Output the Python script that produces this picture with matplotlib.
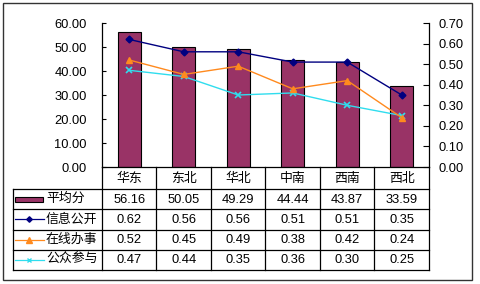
import matplotlib
matplotlib.use('Agg')
import matplotlib.pyplot as plt
from matplotlib.patches import Rectangle
from matplotlib.lines import Line2D

plt.rcParams['font.family'] = ['Liberation Sans', 'Noto Sans CJK SC']

regions = ['华东', '东北', '华北', '中南', '西南', '西北']
avg_score = [56.16, 50.05, 49.29, 44.44, 43.87, 33.59]
info_open = [0.62, 0.56, 0.56, 0.51, 0.51, 0.35]
online_service = [0.52, 0.45, 0.49, 0.38, 0.42, 0.24]
public_part = [0.47, 0.44, 0.35, 0.36, 0.30, 0.25]

row_names = ['平均分', '信息公开', '在线办事', '公众参与']
row_values = [avg_score, info_open, online_service, public_part]

BAR = '#993366'
NAVY = '#000080'
ORANGE = '#FF8A1E'
CYAN = '#30DDEE'
FS = 9.3

W, H = 481, 284
fig = plt.figure(figsize=(W / 100, H / 100), dpi=100)

# pixel layout of the Excel chart
left, right, top, base = 102, 429, 23, 167
tab_left, tab_bottom = 13, 270
hdr_bottom = 189

# background layer in pixel coordinates: frame + data table
bg = fig.add_axes([0, 0, 1, 1])
bg.set_xlim(0, W)
bg.set_ylim(H, 0)
bg.axis('off')
bg.add_patch(Rectangle((3, 3), 469, 277, fill=False, ec='#333333', lw=1.0))

n = len(regions)
col_w = (right - left) / n
row_h = (tab_bottom - hdr_bottom) / len(row_names)
lk = dict(color='black', lw=0.9)

# header text
for i, r in enumerate(regions):
    bg.text(left + (i + 0.5) * col_w, (base + hdr_bottom) / 2 + 1, r,
            ha='center', va='center', fontsize=FS)
# vertical grid lines
for i in range(n + 1):
    bg.add_line(Line2D([left + i * col_w] * 2, [base, tab_bottom], **lk))
bg.add_line(Line2D([tab_left] * 2, [hdr_bottom, tab_bottom], **lk))
# horizontal lines
for j in range(len(row_names) + 1):
    y = hdr_bottom + j * row_h
    bg.add_line(Line2D([tab_left, right], [y, y], **lk))

# rows: legend key, name, values
for j, (name, vals) in enumerate(zip(row_names, row_values)):
    yc = hdr_bottom + (j + 0.5) * row_h
    if j == 0:
        bg.add_patch(Rectangle((15, yc - 2.5), 28, 5, fc=BAR, ec='black', lw=0.8))
    else:
        style = [(NAVY, 'D', 2.8), (ORANGE, '^', 4), (CYAN, 'x', 3.2)][j - 1]
        bg.add_line(Line2D([15, 44], [yc, yc], color=style[0], lw=0.9))
        bg.plot([29.5], [yc], marker=style[1], color=style[0], ms=style[2], mew=1.0)
    bg.text(46, yc, name, ha='left', va='center', fontsize=FS)
    for i, v in enumerate(vals):
        bg.text(left + (i + 0.5) * col_w, yc + 0.5, f'{v:.2f}',
                ha='center', va='center', fontsize=FS)

# main chart
ax = fig.add_axes([left / W, 1 - base / H, (right - left) / W, (base - top) / H])
ax.patch.set_alpha(0)
x = list(range(n))
ax.bar(x, avg_score, width=0.43, color=BAR, edgecolor='black', linewidth=0.8, zorder=2)
ax.set_xlim(-0.5, n - 0.5)
ax.set_ylim(0, 60)
ax.set_yticks(range(0, 61, 10))
ax.set_yticklabels([f'{v:.2f}' for v in range(0, 61, 10)])
ax.set_xticks([])
ax.tick_params(axis='y', direction='in', length=3, pad=11, labelsize=FS)
ax.spines['top'].set_visible(False)
ax.spines['right'].set_visible(False)
for s in ('left', 'bottom'):
    ax.spines[s].set_linewidth(0.9)

ax2 = ax.twinx()
ax2.set_ylim(0, 0.7)
ticks2 = [i / 10 for i in range(8)]
ax2.set_yticks(ticks2)
ax2.set_yticklabels([f'{v:.2f}' for v in ticks2])
ax2.tick_params(axis='y', direction='in', length=4, pad=6.5, labelsize=FS)
ax2.spines['top'].set_visible(False)
ax2.spines['left'].set_visible(False)
ax2.spines['bottom'].set_visible(False)
ax2.spines['right'].set_linewidth(0.9)

ax2.plot(x, public_part, color=CYAN, lw=1.0, marker='x', ms=4, mew=1.2, zorder=3)
ax2.plot(x, online_service, color=ORANGE, lw=1.0, marker='^', ms=5, zorder=4)
ax2.plot(x, info_open, color=NAVY, lw=1.0, marker='D', ms=3.5, zorder=5)

fig.savefig('out.png', dpi=100)
